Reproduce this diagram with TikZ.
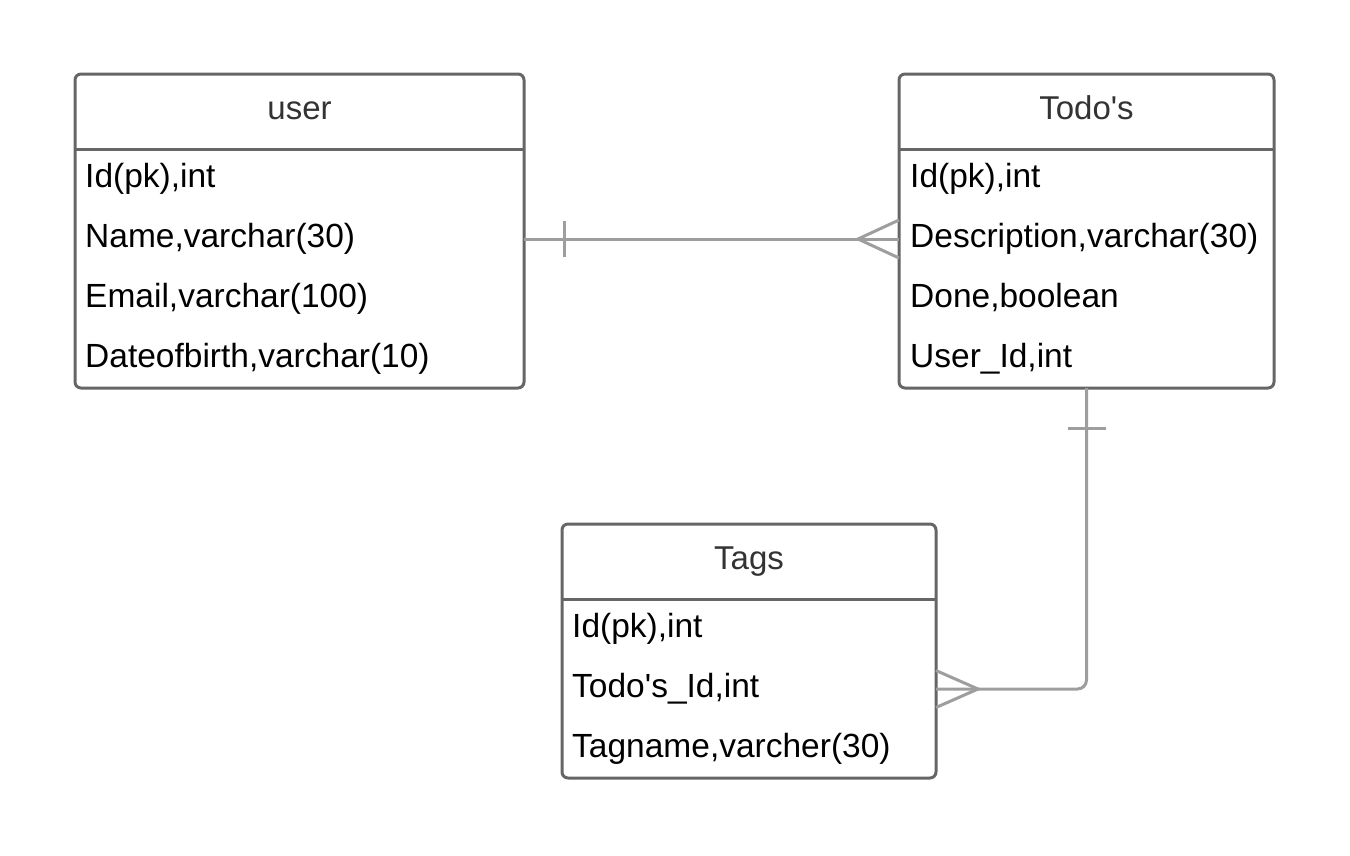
\documentclass[tikz,border=0pt]{standalone}
\usepackage{fontspec}
\setmainfont{Liberation Sans}
\usetikzlibrary{calc}
\definecolor{bordergray}{HTML}{666666}
\definecolor{conngray}{HTML}{9E9E9E}
\definecolor{titlegray}{HTML}{333333}
\begin{document}
\begin{tikzpicture}[x=1pt,y=-1pt,
  tbl/.style={draw=bordergray, line width=3pt, rounded corners=6pt, fill=white, inner sep=0pt, outer sep=0pt, anchor=north west},
  hdr/.style={draw=bordergray, line width=3pt},
  conn/.style={draw=conngray, line width=3pt},
  ttl/.style={font=\fontsize{33}{40}\selectfont, text=titlegray, anchor=base, inner sep=0pt},
  row/.style={font=\fontsize{33.5}{40}\selectfont, text=black, anchor=base west, inner sep=0pt}]
\useasboundingbox (0,0) rectangle (1350,855);
% tables
\node[tbl, minimum width=449pt, minimum height=314pt] (user) at (75,74) {};
\node[tbl, minimum width=375pt, minimum height=314pt] (todo) at (899,74) {};
\node[tbl, minimum width=374pt, minimum height=254pt] (tags) at (562,524) {};
\draw[hdr] ($(user.north west)+(0,75)$) -- ($(user.north east)+(0,75)$);
\draw[hdr] ($(todo.north west)+(0,75)$) -- ($(todo.north east)+(0,75)$);
\draw[hdr] ($(tags.north west)+(0,75)$) -- ($(tags.north east)+(0,75)$);
% titles
\node[ttl] (ut) at (299.5,119) {user};
\node[ttl] (tt) at (1086.5,119) {Todo\textquotesingle s};
\node[ttl] (gt) at (749,569) {Tags};
% rows
\node[row] (u1) at (85,187) {Id(pk),int};
\node[row] (u2) at (85,247) {Name,varchar(30)};
\node[row] (u3) at (85,307) {Email,varchar(100)};
\node[row] (u4) at (85,367) {Dateofbirth,varchar(10)};
\node[row] (d1) at (910,187) {Id(pk),int};
\node[row] (d2) at (910,247) {Description,varchar(30)};
\node[row] (d3) at (910,307) {Done,boolean};
\node[row] (d4) at (910,367) {User\_Id,int};
\node[row] (g1) at (572,637) {Id(pk),int};
\node[row] (g2) at (572,697) {Todo\textquotesingle s\_Id,int};
\node[row] (g3) at (572,757) {Tagname,varcher(30)};
% connector user -- todo
\coordinate (a1) at (user.east |- 0,239);
\coordinate (a2) at (todo.west |- 0,239);
\draw[conn] (a1) -- (a2);
\draw[conn] ($(a1)+(40,-18)$) -- ($(a1)+(40,18)$);
\draw[conn] ($(a2)+(0,-19)$) -- ($(a2)+(-41,0)$) -- ($(a2)+(0,19)$);
% connector todo -- tags
\coordinate (b2) at (tags.east |- 0,689);
\draw[conn, rounded corners=9pt] (todo.south) |- (b2);
\draw[conn] ($(todo.south)+(-19,40)$) -- ($(todo.south)+(19,40)$);
\draw[conn] ($(b2)+(0,-18.5)$) -- ($(b2)+(42,0)$) -- ($(b2)+(0,18.5)$);
\end{tikzpicture}
\end{document}
